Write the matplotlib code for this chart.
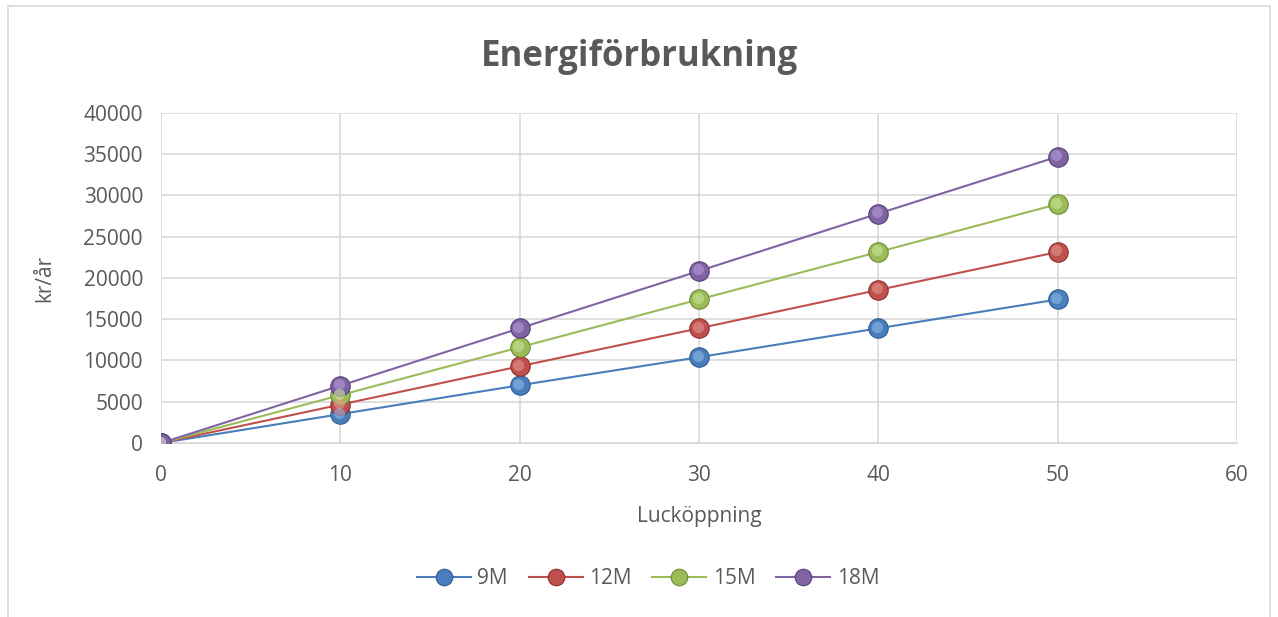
import matplotlib.pyplot as plt
import matplotlib.transforms as mtransforms
from matplotlib.patches import Rectangle

plt.rcParams['font.family'] = ['Open Sans', 'DejaVu Sans']

# Lucköppning
x = [0, 10, 20, 30, 40, 50]
series = ["9M", "12M", "15M", "18M"]
m9 = [0, 3500, 7000, 10400, 13900, 17400]
m12 = [0, 4650, 9300, 13900, 18550, 23150]
m15 = [0, 5800, 11600, 17400, 23150, 28950]
m18 = [0, 6950, 13900, 20850, 27800, 34700]
values = [m9, m12, m15, m18]
colors = ["#4A7EBB", "#C0504D", "#9BBB59", "#8064A2"]
dark = ["#2E5C94", "#8E2E2B", "#6E8C34", "#56407A"]
light = ["#8DB6E6", "#E39593", "#C9E496", "#B39CD6"]

text_col = "#595959"
grid_col = "#D9D9D9"

fig = plt.figure(figsize=(12.78, 6.17), dpi=100)
ax = fig.add_axes([0.126, 0.282, 0.842, 0.535])

# kant runt hela diagrammet
fig.patches.append(Rectangle((0.006, -0.01), 0.988, 1.0, transform=fig.transFigure,
                             fill=False, edgecolor=grid_col, lw=1.2))

shift = mtransforms.ScaledTranslation(-1.5 / 100, 1.5 / 100, fig.dpi_scale_trans)
for name, vals, c, d, l in zip(series, values, colors, dark, light):
    ax.plot(x, vals, '-', color=c, lw=1.5, marker='o', markersize=14,
            markerfacecolor=c, markeredgecolor=d, markeredgewidth=0.8,
            label=name, zorder=3)
    # glans på kulorna
    ax.plot(x, vals, 'o', markersize=8, color=l, markeredgewidth=0, alpha=0.6,
            transform=ax.transData + shift, zorder=4)

ax.set_xlim(0, 60)
ax.set_ylim(0, 40000)
ax.set_xticks(range(0, 61, 10))
ax.set_yticks(range(0, 40001, 5000))
ax.grid(True, color=grid_col, lw=1.2)
ax.set_axisbelow(True)
for s in ax.spines.values():
    s.set_visible(False)
ax.spines['bottom'].set_visible(True)
ax.spines['bottom'].set_color(grid_col)
ax.tick_params(length=0, labelsize=15, labelcolor=text_col)
ax.tick_params(axis='y', pad=13)
ax.tick_params(axis='x', pad=16)

ax.set_xlabel("Lucköppning", fontsize=15, color=text_col, labelpad=14)
ax.set_ylabel("kr/år", fontsize=15, color=text_col, labelpad=20)
fig.text(0.5, 0.907, "Energiförbrukning", ha='center', va='center',
         fontsize=25, fontweight='bold', color=text_col)

fig.legend(loc='center', bbox_to_anchor=(0.507, 0.062), ncol=4, frameon=False,
           fontsize=15, labelcolor=text_col, handlelength=2.6, columnspacing=1.0,
           handletextpad=0.3, markerscale=0.85)

fig.savefig("out.png", dpi=100)
